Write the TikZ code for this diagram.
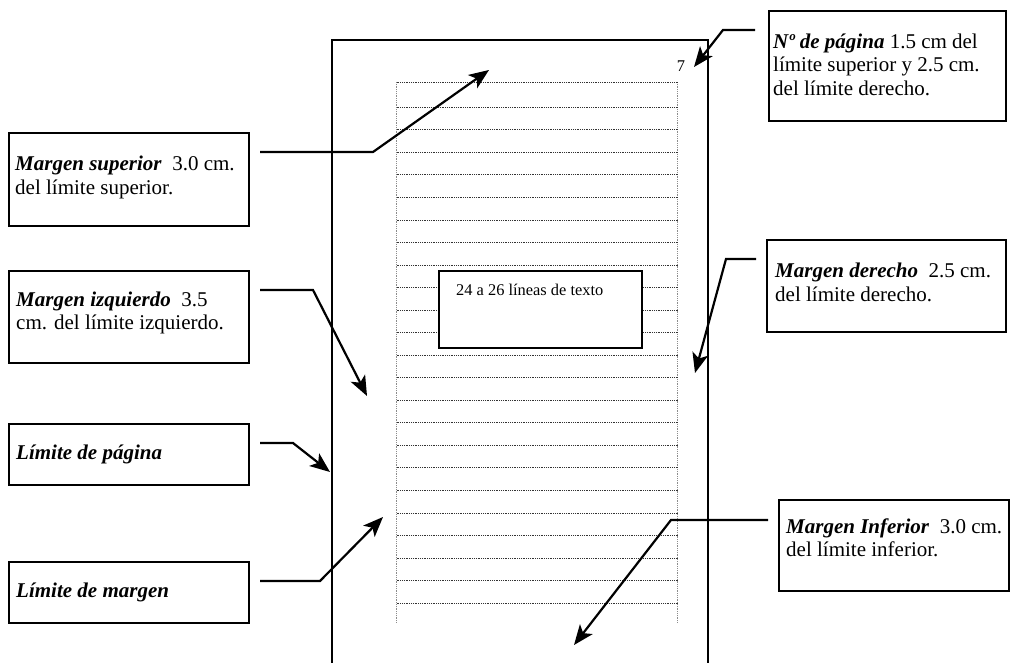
\documentclass[tikz,border=0pt]{standalone}
\usepackage{fontspec}
\setmainfont{Liberation Serif}
\usetikzlibrary{arrows.meta}
\newcommand{\bt}[1]{\textbf{\textit{#1}}}
\begin{document}
\begin{tikzpicture}[x=1pt,y=-1pt,
  pagebord/.style={line width=2pt},
  lbox/.style={draw, line width=1.8pt, anchor=north west, inner sep=0pt},
  ltext/.style={anchor=base west, inner sep=0pt, align=left, font=\fontsize{21}{23.5}\selectfont},
  conn/.style={line width=2.2pt, -{Stealth[length=20pt,width=16pt,inset=5pt]}},
  hdot/.style={line width=0.9pt, black!80, dash pattern=on 0.9pt off 0.9pt},
  vdot/.style={line width=0.9pt, black!45, dash pattern=on 0.9pt off 0.9pt}]
\useasboundingbox (0,0) rectangle (1010,663);
\fill[white] (0,0) rectangle (1010,663);
% page border
\draw[pagebord] (332,664) -- (332,40) -- (708,40) -- (708,664);
% text area
\draw[vdot] (396.5,82) -- (396.5,623);
\draw[vdot] (677.5,82) -- (677.5,623);
\draw[hdot] (396.5,82) -- (677.5,82);
\foreach \k in {0,...,22} {
  \draw[hdot] (396.5,107.3+\k*22.54) -- (677.5,107.3+\k*22.54);
}
% inner box
\node[lbox, fill=white, minimum width=203pt, minimum height=77pt] (T) at (438,270) {};
\node[anchor=base west, inner sep=0pt, font=\fontsize{16.4}{19}\selectfont] (Tt) at (456,295) {24 a 26 líneas de texto};
% page number
\node[anchor=base, inner sep=0pt, font=\fontsize{16.4}{19}\selectfont] (P) at (681,72) {7};
% boxes (text nodes anchored at the baseline of their last line)
\node[lbox, minimum width=237pt, minimum height=110pt] (A) at (768,10) {};
\node[ltext] (At) at (773,95.5) {\bt{Nº de página} 1.5 cm del\\límite superior y 2.5 cm.\\del límite derecho.};
\node[lbox, minimum width=240pt, minimum height=93pt] (B) at (8,132) {};
\node[ltext] (Bt) at (15,194.5) {\bt{Margen superior}\ \ 3.0 cm.\\del límite superior.};
\node[lbox, minimum width=240pt, minimum height=92pt] (C) at (8,270) {};
\node[ltext] (Ct) at (16,330) {\bt{Margen izquierdo}\ \ 3.5\\cm. del límite izquierdo.};
\node[lbox, minimum width=240pt, minimum height=61pt] (D) at (8,423) {};
\node[ltext] (Dt) at (16,459) {\bt{Límite de página}};
\node[lbox, minimum width=240pt, minimum height=61pt] (E) at (8,561) {};
\node[ltext] (Et) at (16,597) {\bt{Límite de margen}};
\node[lbox, minimum width=239pt, minimum height=92pt] (F) at (766,239) {};
\node[ltext] (Ft) at (775,301.5) {\bt{Margen derecho}\ \ 2.5 cm.\\del límite derecho.};
\node[lbox, minimum width=230pt, minimum height=91pt] (G) at (778,499) {};
\node[ltext] (Gt) at (786,556.5) {\bt{Margen Inferior}\ \ 3.0 cm.\\del límite inferior.};
% connector coordinates
\coordinate (a0) at (755,30);  \coordinate (a1) at (723,30);  \coordinate (a2) at (694,67);
\coordinate (b0) at (260,152); \coordinate (b1) at (373,152); \coordinate (b2) at (489,70);
\coordinate (c0) at (260,290); \coordinate (c1) at (313,290); \coordinate (c2) at (367,396);
\coordinate (d0) at (260,443); \coordinate (d1) at (293,443); \coordinate (d2) at (330,472);
\coordinate (e0) at (260,581); \coordinate (e1) at (320,581); \coordinate (e2) at (383,517);
\coordinate (f0) at (756,259); \coordinate (f1) at (726,259); \coordinate (f2) at (695,373);
\coordinate (g0) at (768,520); \coordinate (g1) at (671,520); \coordinate (g2) at (574,645);
\draw[conn] (a0) -- (a1) -- (a2);
\draw[conn] (b0) -- (b1) -- (b2);
\draw[conn] (c0) -- (c1) -- (c2);
\draw[conn] (d0) -- (d1) -- (d2);
\draw[conn] (e0) -- (e1) -- (e2);
\draw[conn] (f0) -- (f1) -- (f2);
\draw[conn] (g0) -- (g1) -- (g2);
\end{tikzpicture}
\end{document}
